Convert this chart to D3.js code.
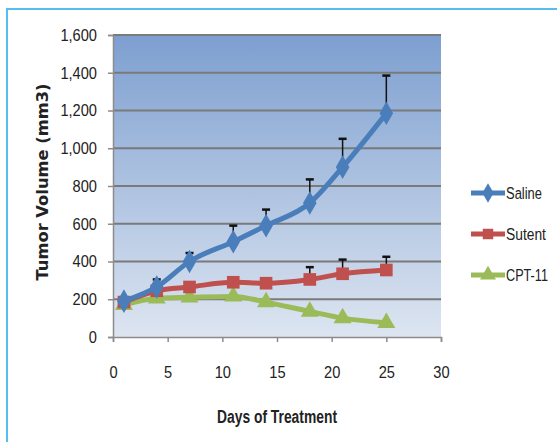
<!DOCTYPE html>
<html><head><meta charset="utf-8">
<script src="https://cdn.jsdelivr.net/npm/d3@7"></script>
<style>
html,body{margin:0;padding:0;background:#fff;}
svg{display:block;}
text{font-family:"Liberation Sans",Arial,sans-serif;}
</style></head>
<body>
<svg id="chart" width="557" height="442"></svg>
<script>
const days = [1, 4, 7, 11, 14, 18, 21, 25];
const seriesNames = ["Saline", "Sutent", "CPT-11"];
const salineValues = [190, 265, 400, 505, 590, 710, 900, 1185];
const salineErrors = [0, 40, 45, 85, 85, 125, 150, 200];
const sutentValues = [185, 245, 265, 290, 285, 305, 335, 355];
const sutentErrors = [0, 0, 0, 0, 0, 65, 75, 70];
const cpt11Values = [170, 205, 210, 215, 185, 135, 100, 75];
const cpt11Errors = [0, 0, 0, 0, 0, 0, 0, 0];
const yTicks = [0, 200, 400, 600, 800, 1000, 1200, 1400, 1600];
const xTicks = [0, 5, 10, 15, 20, 25, 30];
const colors = ["#4a7ebb", "#c0504d", "#9bbb59"];
const markers = [d3.symbolDiamond, d3.symbolSquare, d3.symbolTriangle];
const seriesValues = [salineValues, sutentValues, cpt11Values];
const seriesErrors = [salineErrors, sutentErrors, cpt11Errors];

function condense(sel, f) {
  sel.each(function() {
    const w = this.getComputedTextLength();
    this.setAttribute("textLength", w * f);
    this.setAttribute("lengthAdjust", "spacingAndGlyphs");
  });
}
function fitTo(sel, w) {
  sel.attr("textLength", w).attr("lengthAdjust", "spacingAndGlyphs");
}

const svg = d3.select("#chart");
const L = 113, T = 35, R = 441, B = 337;
const x = d3.scaleLinear().domain([0, 30]).range([L, R]);
const y = d3.scaleLinear().domain([0, 1600]).range([B, T]);

// outer border
svg.append("rect").attr("x", 7).attr("y", 9).attr("width", 560).attr("height", 450)
  .attr("fill", "#fff").attr("stroke", "#55bdf0").attr("stroke-width", 2);

// plot gradient
const defs = svg.append("defs");
const g = defs.append("linearGradient").attr("id", "bg").attr("x1", 0).attr("y1", 0).attr("x2", 0).attr("y2", 1);
g.append("stop").attr("offset", "0%").attr("stop-color", "#7d9fd0");
g.append("stop").attr("offset", "100%").attr("stop-color", "#dde5f1");
svg.append("rect").attr("x", L).attr("y", T).attr("width", R - L).attr("height", B - T).attr("fill", "url(#bg)");

// gridlines
svg.append("g").selectAll("line").data(yTicks.filter(v => v > 0)).join("line")
  .attr("x1", L).attr("x2", R).attr("y1", d => y(d)).attr("y2", d => y(d))
  .attr("stroke", "#7a7a7a").attr("stroke-width", 1.8);

// axes
const yAxis = svg.append("g").attr("transform", `translate(${L},0)`)
  .call(d3.axisLeft(y).tickValues(yTicks).tickFormat(d3.format(",")).tickSize(5).tickPadding(11));
const xAxis = svg.append("g").attr("transform", `translate(0,${B})`)
  .call(d3.axisBottom(x).tickValues(xTicks).tickSize(5).tickPadding(24));
[yAxis, xAxis].forEach(a => {
  a.select(".domain").attr("stroke", "#8c8c8c").attr("stroke-width", 1.5);
  a.selectAll(".tick line").attr("stroke", "#8c8c8c").attr("stroke-width", 1.5);
  a.selectAll("text").attr("fill", "#222").attr("font-size", 17)
    .style("font-family", '"Liberation Sans",Arial,sans-serif');
  condense(a.selectAll("text"), 0.86);
});

// error bars
seriesValues.forEach((vals, si) => {
  const errs = seriesErrors[si];
  const eg = svg.append("g");
  days.forEach((dd, i) => {
    if (errs[i] <= 0) return;
    eg.append("line").attr("x1", x(dd)).attr("x2", x(dd)).attr("y1", y(vals[i])).attr("y2", y(vals[i] + errs[i]))
      .attr("stroke", "#111").attr("stroke-width", 1.5);
    eg.append("line").attr("x1", x(dd) - 4).attr("x2", x(dd) + 4).attr("y1", y(vals[i] + errs[i])).attr("y2", y(vals[i] + errs[i]))
      .attr("stroke", "#111").attr("stroke-width", 2.5);
  });
});

// series lines and markers
const line = d3.line().x((d, i) => x(days[i])).y(d => y(d)).curve(d3.curveMonotoneX);
const order = [2, 1, 0];
order.forEach(si => {
  const vals = seriesValues[si];
  svg.append("path").datum(vals).attr("d", line).attr("fill", "none")
    .attr("stroke", colors[si]).attr("stroke-width", 5).attr("stroke-linejoin", "round");
  const sizes = [160, 160, 140];
  svg.append("g").selectAll("path").data(vals).join("path")
    .attr("transform", (d, i) => `translate(${x(days[i])},${y(d)})`)
    .attr("d", d3.symbol().type(markers[si]).size(sizes[si]))
    .attr("fill", colors[si]);
});

// legend
const legY = [193, 234, 275];
const legW = [36, 40, 42];
seriesNames.forEach((name, si) => {
  const lg = svg.append("g").attr("transform", `translate(471,${legY[si]})`);
  lg.append("line").attr("x1", 0).attr("x2", 34).attr("stroke", colors[si]).attr("stroke-width", 5);
  lg.append("path").attr("transform", "translate(17,0)")
    .attr("d", d3.symbol().type(markers[si]).size(110)).attr("fill", colors[si]);
  const tg = lg.append("g").attr("transform", "translate(35,0)");
  const t = tg.append("text").attr("x", 0).attr("y", 0).attr("dy", "0.35em")
    .attr("font-size", 17).attr("fill", "#222").text(name);
  const nat = t.node().getComputedTextLength();
  tg.attr("transform", `translate(35,0) scale(${legW[si] / nat},1)`);
});

// axis titles
const yt = svg.append("text").attr("transform", "translate(48,182) rotate(-90)")
  .attr("text-anchor", "middle").attr("font-size", 15).attr("font-weight", "bold")
  .style("font-family", '"DejaVu Sans","Liberation Sans",sans-serif').attr("fill", "#222")
  .text("Tumor Volume (mm3)");
fitTo(yt, 197);
const xt = svg.append("text").attr("x", 277).attr("y", 423).attr("text-anchor", "middle")
  .attr("font-size", 18).attr("font-weight", "bold").attr("fill", "#222")
  .text("Days of Treatment");
fitTo(xt, 120);
</script>
</body></html>
